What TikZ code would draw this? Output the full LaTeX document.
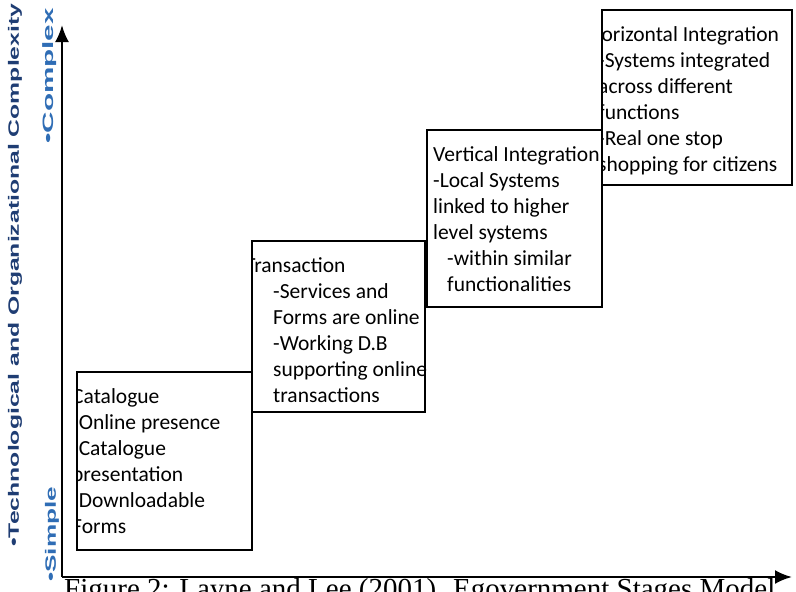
\documentclass[tikz,border=0pt]{standalone}
\usepackage{fontspec}
\usepackage{graphicx}
\setmainfont{Liberation Serif}
\newfontfamily\boxfont{Carlito}
\newfontfamily\achsenfont{Liberation Sans}
\usetikzlibrary{arrows.meta}
\definecolor{dunkelblau}{HTML}{1F3D73}
\definecolor{mittelblau}{HTML}{2F6DB5}
\tikzset{
  kasten/.style={line width=1.5pt},
  stufe/.style={anchor=base west, inner sep=0pt, align=left,
    font=\boxfont\fontsize{21.5}{26}\selectfont},
  achse/.style={line width=2.5pt, -{Latex[length=17pt,width=14pt]}},
  achsentext/.style={rotate=90, anchor=west, inner sep=0pt,
    font=\achsenfont\bfseries\fontsize{15}{15}\selectfont}
}
\begin{document}
\begin{tikzpicture}[x=1pt, y=-1pt]
\useasboundingbox (0,0) rectangle (796,592);
\coordinate (O) at (62,577);
\coordinate (Y) at (62,25);
\coordinate (X) at (792,577);
% Ecken der vier Stufen
\coordinate (Ka) at (77,372);  \coordinate (Kb) at (252,550);
\coordinate (Ta) at (252,241); \coordinate (Tb) at (425,412);
\coordinate (Va) at (427,130); \coordinate (Vb) at (602,307);
\coordinate (Ha) at (602,10);  \coordinate (Hb) at (792,185);
\draw[kasten] (Ka) rectangle (Kb);
\draw[kasten] (Ta) rectangle (Tb);
\draw[kasten] (Va) rectangle (Vb);
\draw[kasten] (Ha) rectangle (Hb);
% base = Grundlinie der letzten Zeile
\begin{scope}
\clip (Ka) rectangle (796,550);
\node[stufe] (katalog) at (72,533)
  {Catalogue\\-Online presence\\-Catalogue\\presentation\\-Downloadable\\Forms};
\end{scope}
\begin{scope}
\clip (Ta) rectangle (796,412);
\node[stufe] (transaktion) at (245,402)
  {Transaction\\\hspace*{28pt}-Services and\\\hspace*{28pt}Forms are online\\
   \hspace*{28pt}-Working D.B\\\hspace*{28pt}supporting online\\\hspace*{28pt}transactions};
\end{scope}
\node[stufe] (vertikal) at (433,291)
  {Vertical Integration\\-Local Systems\\linked to higher\\level systems\\
   \hspace*{14pt}-within similar\\\hspace*{14pt}functionalities};
\begin{scope}
\clip (Ha) rectangle (796,185);
\node[stufe] (horizontal) at (588,171)
  {Horizontal Integration\\\hspace*{10pt}-Systems integrated\\\hspace*{10pt}across different\\
   \hspace*{10pt}functions\\\hspace*{10pt}-Real one stop\\\hspace*{10pt}shopping for citizens};
\end{scope}
% Beschriftung der Achsen
\node[achsentext, text=dunkelblau] (komplex) at (15,547)
  {\scalebox{1.65}[1]{•Technological and Organizational Complexity}};
\node[achsentext, text=mittelblau] (hoch) at (50,144) {\scalebox{1.98}[1]{•Complex}};
\node[achsentext, text=mittelblau] (tief) at (52,582) {\scalebox{1.745}[1]{•Simple}};
\node[anchor=base west, inner sep=0pt, font=\fontsize{29}{29}\selectfont] (titel) at (64,598)
  {Figure 2: Layne and Lee (2001). Egovernment Stages Model};
\draw[achse] (O) -- (Y);
\draw[achse] (O) -- (X);
\end{tikzpicture}
\end{document}
